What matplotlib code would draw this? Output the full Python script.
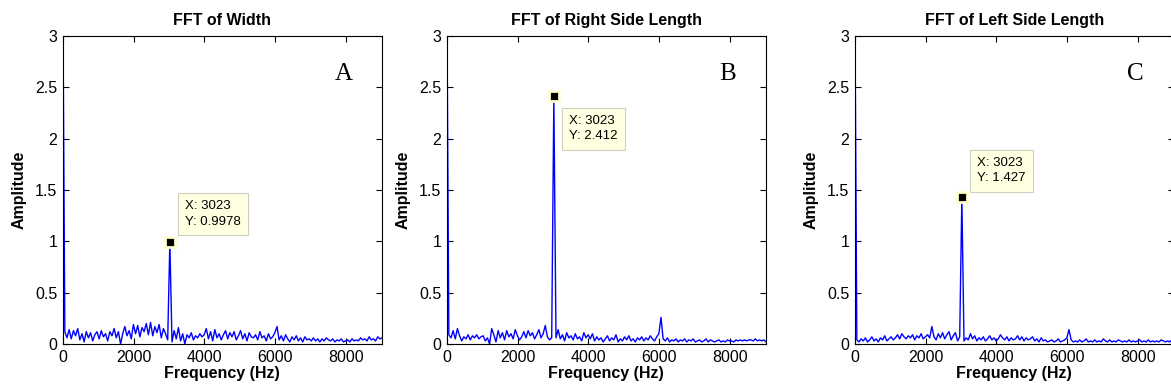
import matplotlib.pyplot as plt
import numpy as np

plt.rcParams['font.family'] = ['Liberation Sans', 'DejaVu Sans']

# FFT bins: bin 50 sits on the 3023 Hz data tip
n_bins = 150
peak_bin = 50
peak_freq = 3023

titles = ['FFT of Width', 'FFT of Right Side Length', 'FFT of Left Side Length']
letters = ['A', 'B', 'C']
peak_vals = [0.9978, 2.412, 1.427]
y_ticks = [0, 0.5, 1, 1.5, 2, 2.5, 3]
y_ticklabels = ['0', '0.5', '1', '1.5', '2', '2.5', '3']
x_ticks = [0, 2000, 4000, 6000, 8000]

amp_width = [
    3.6,
    0.12, 0.06, 0.14, 0.05, 0.13, 0.08, 0.15, 0.04,
    0.10, 0.02, 0.12, 0.06, 0.11, 0.03, 0.09, 0.12,
    0.05, 0.13, 0.07, 0.10, 0.03, 0.12, 0.08, 0.15,
    0.06, 0.12, 0.00, 0.10, 0.17, 0.08, 0.13, 0.05, 0.19,
    0.10, 0.18, 0.07, 0.16, 0.12, 0.20, 0.09, 0.21,
    0.08, 0.17, 0.11, 0.19, 0.06, 0.15, 0.10, 0.04,
    0.9978,
    0.02, 0.13, 0.05, 0.16, 0.03, 0.10, 0.00,
    0.09, 0.06, 0.11, 0.04, 0.08, 0.06, 0.10, 0.07, 0.09,
    0.15, 0.05, 0.12, 0.03, 0.14, 0.06, 0.10, 0.04,
    0.09, 0.13, 0.05, 0.11, 0.07, 0.12, 0.04, 0.08,
    0.13, 0.05, 0.10, 0.03, 0.11, 0.07, 0.06, 0.09, 0.04,
    0.12, 0.06, 0.08, 0.03, 0.10, 0.05, 0.07, 0.11,
    0.17,
    0.04, 0.08, 0.03, 0.09, 0.05, 0.02, 0.07, 0.04,
    0.08, 0.03, 0.06, 0.02, 0.07, 0.04, 0.05, 0.03,
    0.06, 0.03, 0.05, 0.02, 0.05, 0.03, 0.06, 0.04,
    0.03, 0.05, 0.02, 0.04, 0.03, 0.05, 0.02, 0.03,
    0.04, 0.02, 0.05, 0.03, 0.04, 0.03, 0.06, 0.04, 0.05,
    0.03, 0.07, 0.04, 0.05, 0.03, 0.07, 0.05, 0.06,
]

amp_right = [
    3.6,
    0.09, 0.06, 0.13, 0.05, 0.15, 0.08, 0.03, 0.07,
    0.05, 0.09, 0.04, 0.08, 0.06, 0.09, 0.05, 0.07,
    0.08, 0.03, 0.06, 0.00, 0.15, 0.09, 0.02, 0.13,
    0.06, 0.11, 0.04, 0.13, 0.07, 0.10, 0.05, 0.14, 0.08,
    0.04, 0.07, 0.12, 0.06, 0.13, 0.08, 0.11, 0.05,
    0.09, 0.14, 0.06, 0.10, 0.18, 0.07, 0.04, 0.06,
    2.412,
    0.06, 0.14, 0.05, 0.09, 0.03, 0.11, 0.06,
    0.08, 0.04, 0.10, 0.05, 0.07, 0.03, 0.11, 0.06, 0.09,
    0.05, 0.10, 0.03, 0.07, 0.04, 0.06, 0.02, 0.05,
    0.08, 0.03, 0.06, 0.04, 0.09, 0.02, 0.05, 0.03,
    0.07, 0.04, 0.08, 0.03, 0.05, 0.02, 0.06, 0.04, 0.07,
    0.03, 0.06, 0.04, 0.08, 0.05, 0.03, 0.07, 0.10,
    0.26,
    0.05, 0.03, 0.06, 0.02, 0.04, 0.03, 0.05, 0.02,
    0.04, 0.03, 0.05, 0.02, 0.04, 0.03, 0.05, 0.02,
    0.03, 0.04, 0.02, 0.03, 0.05, 0.02, 0.04, 0.03,
    0.02, 0.03, 0.04, 0.02, 0.03, 0.02, 0.04, 0.03,
    0.03, 0.02, 0.04, 0.03, 0.04, 0.03, 0.04, 0.03, 0.04,
    0.04, 0.03, 0.05, 0.03, 0.04, 0.03, 0.04, 0.02,
]

amp_left = [
    3.6,
    0.04, 0.02, 0.05, 0.03, 0.06, 0.02, 0.04, 0.07,
    0.03, 0.05, 0.02, 0.06, 0.04, 0.08, 0.03, 0.05,
    0.07, 0.04, 0.06, 0.09, 0.05, 0.10, 0.07, 0.05,
    0.08, 0.06, 0.09, 0.04, 0.08, 0.06, 0.10, 0.05, 0.07,
    0.09, 0.06, 0.17, 0.07, 0.04, 0.10, 0.06, 0.11,
    0.05, 0.09, 0.12, 0.04, 0.08, 0.11, 0.03, 0.07,
    1.427,
    0.03, 0.06, 0.04, 0.10, 0.05, 0.08, 0.03,
    0.06, 0.04, 0.07, 0.03, 0.05, 0.08, 0.04, 0.06, 0.03,
    0.05, 0.09, 0.06, 0.04, 0.07, 0.03, 0.06, 0.04,
    0.05, 0.08, 0.04, 0.07, 0.03, 0.06, 0.04, 0.05,
    0.07, 0.03, 0.05, 0.02, 0.06, 0.03, 0.04, 0.02, 0.03,
    0.04, 0.02, 0.03, 0.05, 0.02, 0.03, 0.04, 0.06,
    0.14,
    0.04, 0.02, 0.03, 0.02, 0.04, 0.02, 0.03, 0.05,
    0.02, 0.03, 0.02, 0.04, 0.02, 0.03, 0.02, 0.05,
    0.03, 0.02, 0.04, 0.02, 0.03, 0.02, 0.04, 0.03,
    0.02, 0.03, 0.02, 0.04, 0.02, 0.03, 0.02, 0.03,
    0.04, 0.02, 0.03, 0.02, 0.04, 0.02, 0.03, 0.02, 0.03,
    0.02, 0.04, 0.03, 0.02, 0.03, 0.02, 0.04, 0.03,
]

series = [amp_width, amp_right, amp_left]
freq = np.arange(n_bins) * peak_freq / peak_bin

# axes placement (pixels) -> figure fractions
W, H = 1171, 391
lefts = [62.7, 446.7, 854.7]
ax_w, ax_h, ax_bottom = 319, 308, 47
# data tip text offsets from the marker, pixels
tip_offsets = [(15, 14), (15, -46), (15, 13)]

fig = plt.figure(figsize=(W / 100, H / 100), dpi=100)
fig.patch.set_facecolor('white')

for i in range(3):
    ax = fig.add_axes([lefts[i] / W, ax_bottom / H, ax_w / W, ax_h / H])
    ax.plot(freq, series[i], color='#0000ff', linewidth=1.0)
    ax.set_xlim(0, 9000)
    ax.set_ylim(0, 3)
    ax.set_xticks(x_ticks)
    ax.set_xticklabels([str(t) for t in x_ticks])
    ax.set_yticks(y_ticks)
    ax.set_yticklabels(y_ticklabels)
    ax.tick_params(direction='in', top=True, right=True, length=4,
                   labelsize=11.5, width=0.8, pad=4)
    for s in ax.spines.values():
        s.set_linewidth(0.8)
    ax.set_title(titles[i], fontsize=11.5, fontweight='bold', pad=8)
    ax.set_xlabel('Frequency (Hz)', fontsize=11.5, fontweight='bold', labelpad=1)
    ax.set_ylabel('Amplitude', fontsize=11.5, fontweight='bold', labelpad=6)

    ax.text(7930, 2.63, letters[i], fontsize=18, family='Liberation Serif',
            ha='center', va='center')

    # data tip
    ax.plot([peak_freq], [peak_vals[i]], marker='s', markersize=7,
            markerfacecolor='black', markeredgecolor='#ffffd0',
            markeredgewidth=2, zorder=5, clip_on=False)
    ax.annotate('X: %d\nY: %s' % (peak_freq, peak_vals[i]),
                xy=(peak_freq, peak_vals[i]), xytext=tip_offsets[i],
                textcoords='offset pixels', fontsize=9.5, ha='left', va='bottom',
                linespacing=1.35, zorder=6,
                bbox=dict(boxstyle='square,pad=0.55', facecolor='#ffffe1',
                          edgecolor='#d0d0c0', linewidth=0.8))

fig.savefig('out.png', dpi=100, facecolor='white')
